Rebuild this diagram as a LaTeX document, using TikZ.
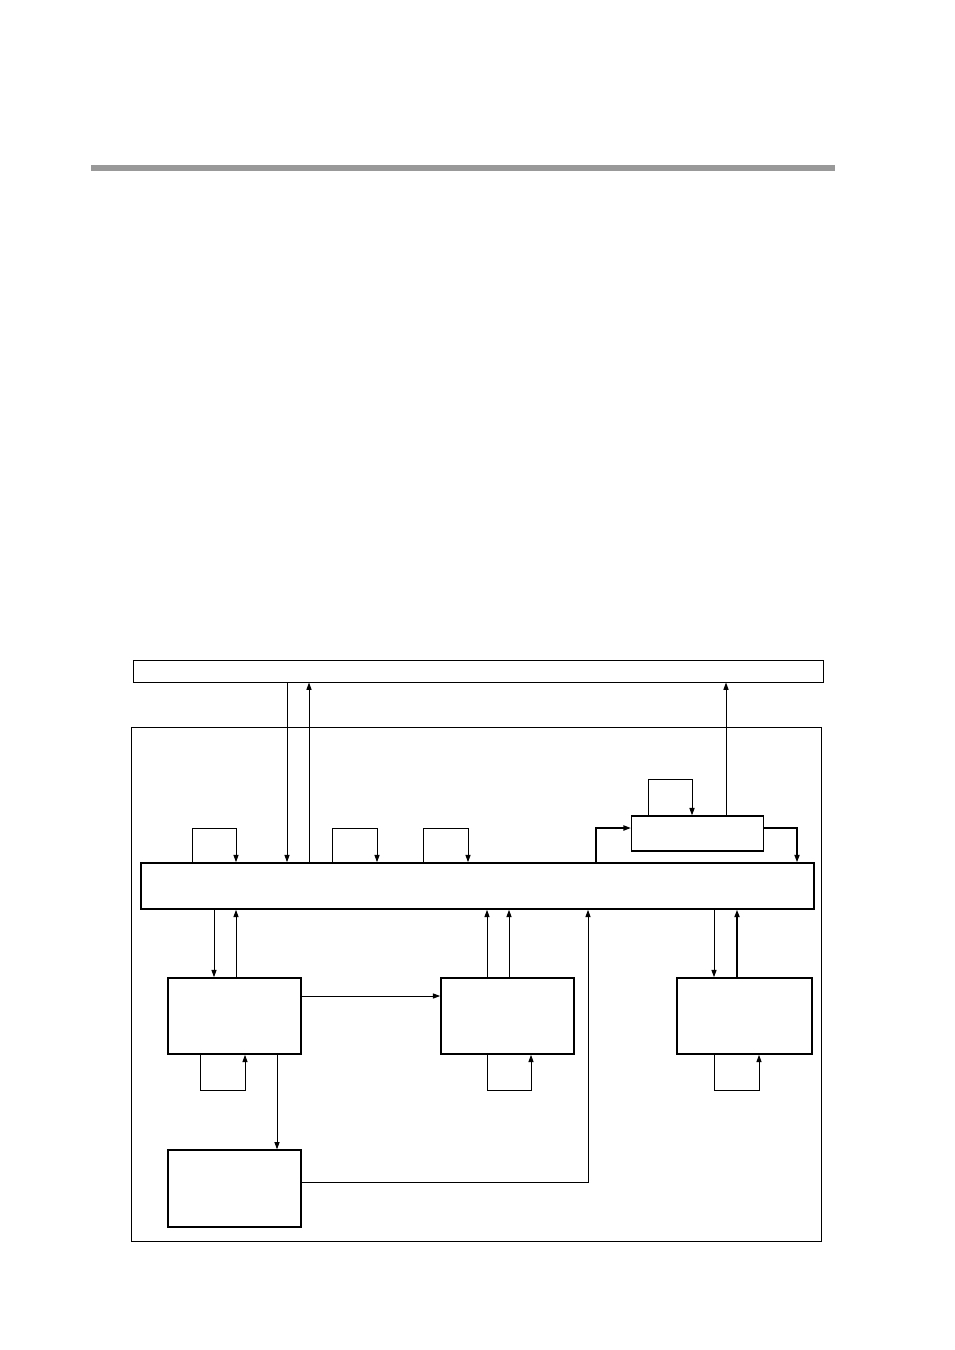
\documentclass[tikz,border=0pt]{standalone}
\usetikzlibrary{arrows.meta}
\newcommand{\un}{0.624pt}
\tikzset{
  box/.style={draw, line width=0.8pt, inner sep=0pt},
  sig/.style={line width=0.6pt},
  arr/.style={sig, -{Triangle[length=4.6pt, width=3.2pt]}},
}

\begin{document}
\begin{tikzpicture}[x=\un, y=-\un]
  \useasboundingbox (0,0) rectangle (954,1350);
  % header rule
  \fill[black!40] (91,165) rectangle (835,171);
  % blocks
  \node[box, line width=0.6pt, minimum width=690*\un, minimum height=22*\un] (host) at (478,671) {};
  \node[box, line width=0.6pt, minimum width=690*\un, minimum height=514*\un] (frame) at (476,984) {};
  \node[box, line width=1pt, minimum width=673*\un, minimum height=46*\un] (bus) at (477.5,886) {};
  \node[box, minimum width=132*\un, minimum height=35*\un] (reg) at (697.5,833.5) {};
  \node[box, line width=1pt, minimum width=133*\un, minimum height=76*\un] (unitA) at (234.5,1016) {};
  \node[box, line width=1pt, minimum width=133*\un, minimum height=76*\un] (unitB) at (507.5,1016) {};
  \node[box, line width=1pt, minimum width=135*\un, minimum height=76*\un] (unitC) at (744.5,1016) {};
  \node[box, minimum width=133*\un, minimum height=77*\un] (store) at (234.5,1188.5) {};
  % host <-> bus
  \draw[arr] (host.south -| 287,0) -- (bus.north -| 287,0);
  \draw[arr] (bus.north -| 309,0) -- (host.south -| 309,0);
  \draw[arr] (reg.north -| 726,0) -- (host.south -| 726,0);
  % loops above the bus
  \foreach \a/\b in {192/236, 332/377, 423/468}
    \draw[arr] (bus.north -| \a,0) |- (\b,828) -- (bus.north -| \b,0);
  \draw[arr] (reg.north -| 648,0) |- (692,779) -- (reg.north -| 692,0);
  \draw[arr, line width=0.9pt] (bus.north -| 596,0) |- (reg.west |- 0,828);
  \draw[arr, line width=0.9pt] (reg.east |- 0,828) -| (bus.north -| 797,0);
  % bus <-> units
  \draw[arr] (bus.south -| 214,0) -- (unitA.north -| 214,0);
  \draw[arr] (unitA.north -| 236,0) -- (bus.south -| 236,0);
  \foreach \x in {487,509}
    \draw[arr] (unitB.north -| \x,0) -- (bus.south -| \x,0);
  \draw[arr] (bus.south -| 714,0) -- (unitC.north -| 714,0);
  \draw[arr, line width=1pt] (unitC.north -| 737,0) -- (bus.south -| 737,0);
  \draw[arr] (unitA.east |- 0,996) -- (unitB.west |- 0,996);
  \draw[arr] (unitA.south -| 277,0) -- (store.north -| 277,0);
  \draw[arr] (store.east |- 0,1182) -| (bus.south -| 588,0);
  % loops below the units
  \foreach \n/\a/\b in {unitA/200/245, unitB/487/531, unitC/714/759}
    \draw[arr] (\n.south -| \a,0) |- (\b,1090) -- (\n.south -| \b,0);
\end{tikzpicture}
\end{document}
